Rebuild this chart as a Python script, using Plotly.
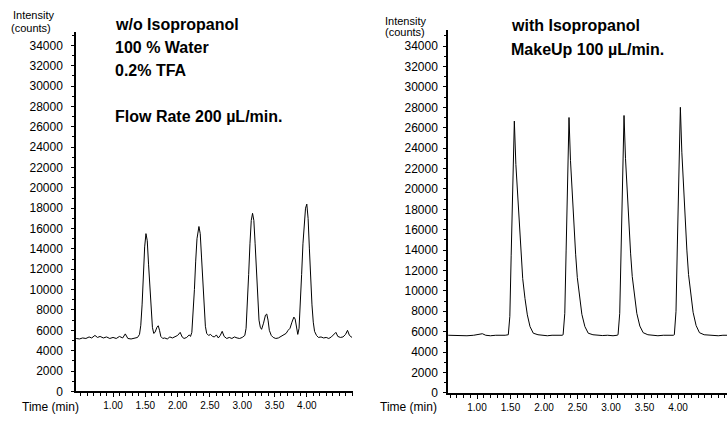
import plotly.graph_objects as go

# Chromatogram without isopropanol (100 % water, 0.2 % TFA, 200 uL/min)
time_water = [
    0.43, 0.48, 0.53, 0.58, 0.63, 0.67, 0.72, 0.76, 0.80, 0.85, 0.90, 0.95,
    1.00, 1.05, 1.10, 1.15, 1.19, 1.23, 1.28, 1.33, 1.38, 1.41, 1.43, 1.45,
    1.47, 1.49, 1.51, 1.53, 1.55, 1.57, 1.59, 1.61, 1.63, 1.65, 1.68, 1.70,
    1.72, 1.74, 1.77, 1.80, 1.84, 1.88, 1.92, 1.96, 2.00, 2.04, 2.07, 2.10,
    2.14, 2.18, 2.20, 2.22, 2.24, 2.26, 2.28, 2.30, 2.33, 2.35, 2.37, 2.39,
    2.41, 2.43, 2.45, 2.48, 2.51, 2.54, 2.57, 2.60, 2.63, 2.66, 2.69, 2.72,
    2.76, 2.80, 2.84, 2.88, 2.92, 2.96, 3.00, 3.04, 3.06, 3.08, 3.10, 3.12,
    3.14, 3.16, 3.18, 3.20, 3.22, 3.24, 3.26, 3.28, 3.30, 3.33, 3.36, 3.38,
    3.40, 3.42, 3.45, 3.48, 3.52, 3.56, 3.60, 3.64, 3.68, 3.71, 3.74, 3.77,
    3.80, 3.82, 3.84, 3.86, 3.88, 3.90, 3.92, 3.94, 3.96, 3.98, 4.00, 4.02,
    4.04, 4.06, 4.08, 4.10, 4.12, 4.15, 4.18, 4.22, 4.26, 4.30, 4.34, 4.38,
    4.42, 4.45, 4.48, 4.52, 4.56, 4.60, 4.63, 4.66, 4.70,
]
counts_water = [
    5200, 5150, 5250, 5200, 5350, 5250, 5500, 5300, 5400, 5250, 5350, 5200,
    5300, 5200, 5400, 5250, 5650, 5200, 5150, 5250, 5300, 5600, 6500, 8500,
    11500, 14200, 15500, 14800, 12500, 10000, 7800, 6300, 5700, 5800, 6300, 6450,
    6000, 5400, 5200, 5250, 5150, 5350, 5250, 5400, 5500, 5800, 5350, 5200,
    5300, 5550, 5400, 5800, 7500, 10000, 12800, 15000, 16200, 15500, 13200, 10500,
    8000, 6400, 5700, 5500, 5600, 5400, 5350, 5550, 5250, 5500, 5900, 5400,
    5200, 5300, 5200, 5350, 5250, 5200, 5300, 5500, 6200, 8500, 11500, 14500,
    16800, 17500, 16800, 14500, 11500, 8800, 7000, 6300, 6100, 6700, 7500, 7600,
    7000, 6000, 5500, 5300, 5200, 5250, 5400, 5500, 5700, 6000, 6200, 6800,
    7300, 7100, 6200, 5600, 6200, 8500, 11500, 14500, 16800, 18000, 18400, 17000,
    14000, 11000, 8500, 6800, 5900, 5500, 5300, 5350, 5250, 5300, 5200, 5350,
    5600, 5800, 5400, 5300, 5350, 5600, 6000, 5500, 5300,
]

# Chromatogram with isopropanol make-up flow (100 uL/min)
time_ipa = [
    0.57, 0.65, 0.75, 0.85, 0.95, 1.03, 1.08, 1.13, 1.20, 1.28, 1.36, 1.42,
    1.467, 1.49, 1.51, 1.537, 1.557, 1.58, 1.607, 1.632, 1.657, 1.682, 1.716,
    1.751, 1.791, 1.84, 1.91, 1.98, 2.05, 2.12, 2.20, 2.27,
    2.285, 2.31, 2.33, 2.353, 2.373, 2.395, 2.42, 2.447, 2.472, 2.497, 2.53,
    2.565, 2.61, 2.66, 2.73, 2.80, 2.87, 2.95, 3.03, 3.09,
    3.105, 3.13, 3.15, 3.174, 3.194, 3.216, 3.24, 3.267, 3.292, 3.317, 3.35,
    3.385, 3.43, 3.48, 3.55, 3.62, 3.70, 3.78, 3.86, 3.93,
    3.945, 3.97, 3.99, 4.015, 4.035, 4.057, 4.082, 4.107, 4.132, 4.157, 4.19,
    4.225, 4.27, 4.32, 4.39, 4.46, 4.53, 4.60, 4.67, 4.75,
]
counts_ipa = [
    5650, 5620, 5650, 5600, 5650, 5700, 5800, 5650, 5600, 5650, 5620, 5650,
    5700, 7500, 13500, 22400, 26650, 22400, 19200, 16300, 13400, 11200, 9250,
    7650, 6500, 5850, 5700, 5650, 5600, 5650, 5620, 5650,
    5700, 7800, 14000, 22500, 27000, 22800, 19500, 16500, 13600, 11300, 9300,
    7700, 6500, 5850, 5700, 5650, 5620, 5650, 5600, 5650,
    5700, 7800, 14000, 22600, 27200, 23000, 19600, 16600, 13700, 11400, 9400,
    7800, 6550, 5900, 5700, 5650, 5600, 5650, 5620, 5650,
    5700, 8000, 14500, 23200, 28000, 23600, 20100, 17000, 14000, 11600, 9600,
    7900, 6600, 5900, 5700, 5650, 5620, 5600, 5650, 5650,
]

time_ticks = [1.0, 1.5, 2.0, 2.5, 3.0, 3.5, 4.0]
time_labels = ["1.00", "1.50", "2.00", "2.50", "3.00", "3.50", "4.00"]
count_ticks = list(range(0, 34001, 2000))

W, H = 727, 422
FONT = "Liberation Sans, Arial, sans-serif"


def px(x):
    return x / W


def py(y):
    return 1 - y / H


fig = go.Figure()
fig.add_trace(go.Scatter(x=time_water, y=counts_water, mode="lines",
                         line=dict(color="black", width=1),
                         xaxis="x", yaxis="y", showlegend=False))
fig.add_trace(go.Scatter(x=time_ipa, y=counts_ipa, mode="lines",
                         line=dict(color="black", width=1),
                         xaxis="x2", yaxis="y2", showlegend=False))

xcommon = dict(
    tickvals=time_ticks, ticktext=time_labels, ticks="outside", ticklen=4,
    tickcolor="black", showline=True, linecolor="black", linewidth=1.5,
    showgrid=False, zeroline=False,
    tickfont=dict(family=FONT, size=10, color="black"),
    minor=dict(dtick=0.1, tick0=0, ticks="outside", ticklen=3,
               tickcolor="black", showgrid=False),
)
ycommon = dict(
    tickvals=count_ticks, tickformat="d", ticks="outside", ticklen=3,
    tickcolor="black", showline=True, linecolor="black", linewidth=1.5,
    showgrid=False, zeroline=False,
    tickfont=dict(family=FONT, size=12, color="black"),
    minor=dict(dtick=1000, ticks="outside", ticklen=2, tickcolor="black",
               showgrid=False),
)

fig.update_layout(
    width=W, height=H,
    margin=dict(l=0, r=0, t=0, b=0),
    paper_bgcolor="white", plot_bgcolor="white",
    xaxis=dict(domain=[px(76), px(353)], range=[0.427, 4.715],
               anchor="y", **xcommon),
    yaxis=dict(domain=[py(398), py(33)], range=[0, 35266],
               anchor="x", ticklabelstandoff=6, **ycommon),
    xaxis2=dict(domain=[px(448), 1.0], range=[0.567, 4.731],
                anchor="y2", **xcommon),
    yaxis2=dict(domain=[py(399.5), py(30)], range=[0, 35630],
                anchor="x2", ticklabelstandoff=3, **ycommon),
)

notes = [
    # axis captions
    ("Intensity", 33, 15, 11, False, "center"),
    ("(counts)", 31, 28, 11, False, "center"),
    ("Time (min)", 50, 414, 12, False, "center"),
    ("Intensity", 406, 21, 11, False, "center"),
    ("(counts)", 405, 33, 11, False, "center"),
    ("Time (min)", 408, 414, 12, False, "center"),
    # run conditions
    ("w/o Isopropanol", 113, 25, 16, True, "left"),
    ("100 % Water", 113, 48, 16, True, "left"),
    ("0.2% TFA", 113, 72, 16, True, "left"),
    ("Flow Rate 200 µL/min.", 113, 118, 16, True, "left"),
    ("with Isopropanol", 509, 26, 16, True, "left"),
    ("MakeUp 100 µL/min.", 509, 50, 16, True, "left"),
]
for text, x, y, size, bold, align in notes:
    fig.add_annotation(
        text=f"<b>{text}</b>" if bold else text,
        x=px(x), y=py(y), xref="paper", yref="paper",
        xanchor=align, yanchor="middle", showarrow=False,
        font=dict(family=FONT, size=size, color="black"),
    )

fig.write_html("out.html")
